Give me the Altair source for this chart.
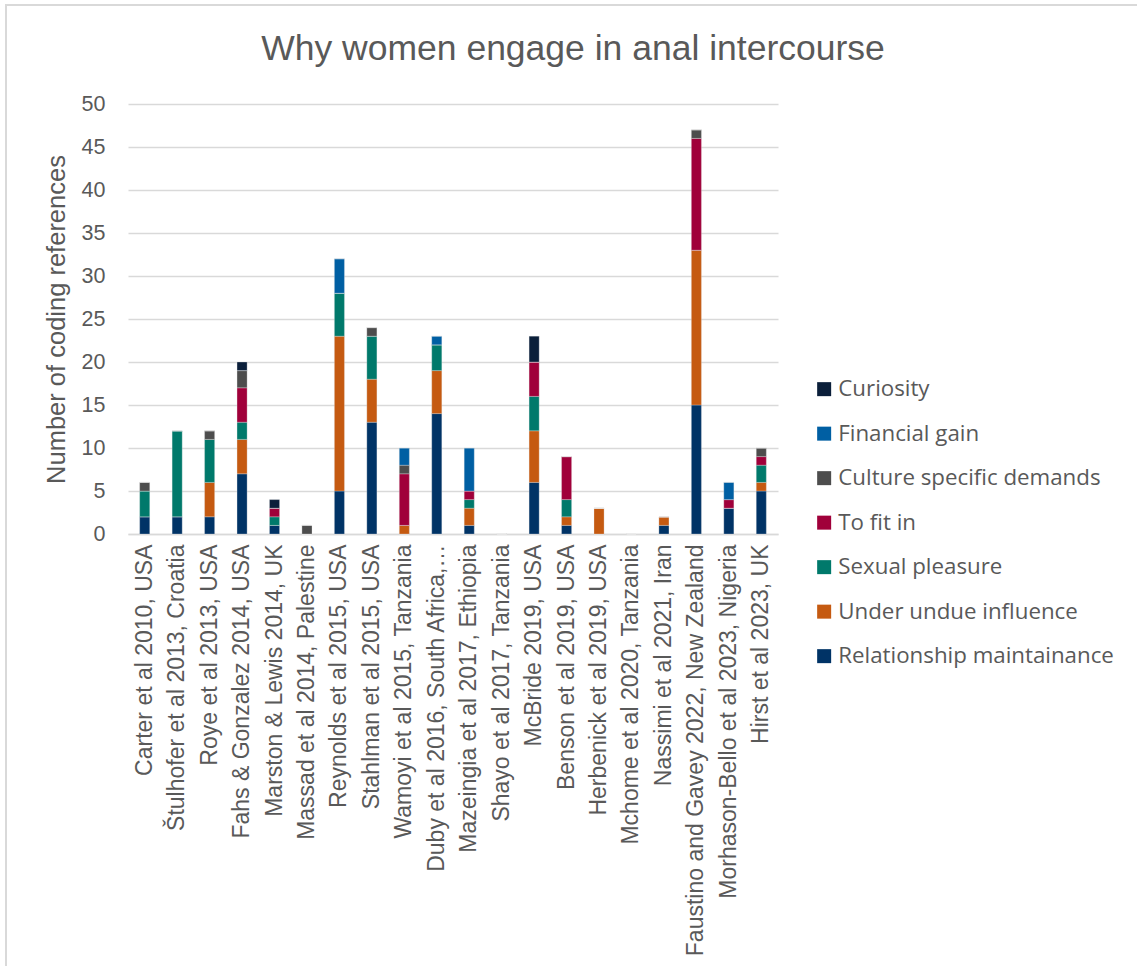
import altair as alt
import pandas as pd

studies = [
    "Carter et al 2010, USA",
    "Štulhofer et al 2013, Croatia",
    "Roye et al 2013, USA",
    "Fahs & Gonzalez 2014, USA",
    "Marston & Lewis 2014, UK",
    "Massad et al 2014, Palestine",
    "Reynolds et al 2015, USA",
    "Stahlman et al 2015, USA",
    "Wamoyi et al 2015, Tanzania",
    "Duby et al 2016, South Africa,…",
    "Mazeingia et al 2017, Ethiopia",
    "Shayo et al 2017, Tanzania",
    "McBride 2019, USA",
    "Benson et al 2019, USA",
    "Herbenick et al 2019, USA",
    "Mchome et al 2020, Tanzania",
    "Nassimi et al 2021, Iran",
    "Faustino and Gavey 2022, New Zealand",
    "Morhason-Bello et al 2023, Nigeria",
    "Hirst et al 2023, UK",
]

# stacking order, bottom to top
reasons = [
    "Relationship maintainance",
    "Under undue influence",
    "Sexual pleasure",
    "To fit in",
    "Culture specific demands",
    "Financial gain",
    "Curiosity",
]

relationship = [2, 2, 2, 7, 1, 0, 5, 13, 0, 14, 1, 0, 6, 1, 0, 0, 1, 15, 3, 5]
undue = [0, 0, 4, 4, 0, 0, 18, 5, 1, 5, 2, 0, 6, 1, 3, 0, 1, 18, 0, 1]
pleasure = [3, 10, 5, 2, 1, 0, 5, 5, 0, 3, 1, 0, 4, 2, 0, 0, 0, 0, 0, 2]
fit_in = [0, 0, 0, 4, 1, 0, 0, 0, 6, 0, 1, 0, 4, 5, 0, 0, 0, 13, 1, 1]
culture = [1, 0, 1, 2, 0, 1, 0, 1, 1, 0, 0, 0, 0, 0, 0, 0, 0, 1, 0, 1]
financial = [0, 0, 0, 0, 0, 0, 4, 0, 2, 1, 5, 0, 0, 0, 0, 0, 0, 0, 2, 0]
curiosity = [0, 0, 0, 1, 1, 0, 0, 0, 0, 0, 0, 0, 3, 0, 0, 0, 0, 0, 0, 0]

colors = ["#003366", "#C55A11", "#00796B", "#A0003A", "#4D4D4D", "#005FA3", "#0B1F3A"]

TITLE = "Why women engage in anal intercourse"

series = [relationship, undue, pleasure, fit_in, culture, financial, curiosity]
rows = []
for k, (reason, vals) in enumerate(zip(reasons, series)):
    for study, v in zip(studies, vals):
        rows.append({"study": study, "reason": reason, "count": v, "stack": k})
df = pd.DataFrame(rows)

FONT = "Liberation Sans"
LEGEND_FONT = "Open Sans"
GRAY = "#595959"

bars = alt.Chart(df).mark_bar(stroke="#E8E8E8", strokeWidth=0.3).encode(
    x=alt.X(
        "study:N",
        sort=studies,
        title=None,
        scale=alt.Scale(paddingInner=0.69, paddingOuter=0.36),
        axis=alt.Axis(
            labelAngle=-90,
            labelFontSize=23,
            labelColor=GRAY,
            labelFont=FONT,
            labelLimit=500,
            labelPadding=10,
            ticks=False,
            domainColor="#D9D9D9",
            domainWidth=1.5,
        ),
    ),
    y=alt.Y(
        "count:Q",
        stack="zero",
        title="Number of coding references",
        scale=alt.Scale(domain=[0, 50]),
        axis=alt.Axis(
            values=list(range(0, 51, 5)),
            labelFontSize=21.5,
            labelColor=GRAY,
            labelFont=FONT,
            labelPadding=23,
            titleFontSize=25.5,
            titleFontWeight="normal",
            titleColor=GRAY,
            titleFont=FONT,
            titlePadding=12,
            ticks=False,
            domain=False,
            gridColor="#D9D9D9",
            gridWidth=1.5,
        ),
    ),
    color=alt.Color(
        "reason:N",
        scale=alt.Scale(domain=reasons[::-1], range=colors[::-1]),
        legend=alt.Legend(
            title=None,
            orient="none",
            legendX=685,
            legendY=274,
            symbolType="square",
            symbolSize=196,
            symbolStrokeWidth=0,
            labelFontSize=22.3,
            labelFont=LEGEND_FONT,
            labelColor=GRAY,
            labelLimit=400,
            rowPadding=21.5,
            labelOffset=3,
        ),
    ),
    order=alt.Order("stack:Q", sort="ascending"),
)

# chart frame and heading, placed relative to the plot area
frame = alt.Chart(pd.DataFrame({"k": [0]})).mark_rect(
    fill=None, stroke="#D9D9D9", strokeWidth=2
).encode(
    x=alt.value(-122), x2=alt.value(1100), y=alt.value(-99), y2=alt.value(900)
)

heading = alt.Chart(pd.DataFrame({"k": [0]})).mark_text(
    font=FONT, fontSize=35.5, color=GRAY, align="center", baseline="alphabetic"
).encode(
    x=alt.value(445), y=alt.value(-44), text=alt.value(TITLE)
)

chart = alt.layer(frame, heading, bars).properties(
    width=650,
    height=430,
    autosize=alt.AutoSizeParams(type="none"),
    padding={"left": 128, "top": 104, "right": 359, "bottom": 432},
).configure_view(stroke=None)

chart.save("out.html", embed_options={"renderer": "svg", "actions": False})
